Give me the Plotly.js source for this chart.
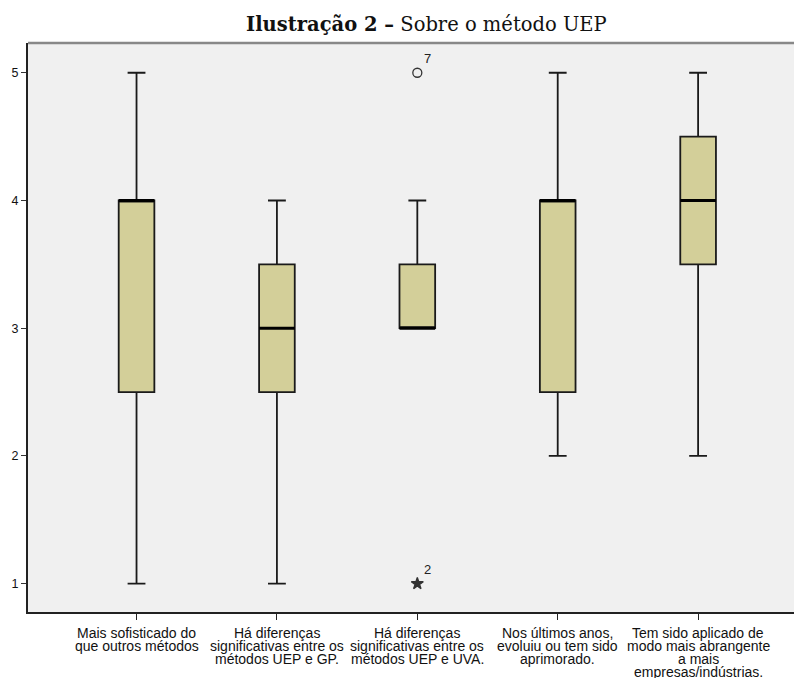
<!DOCTYPE html>
<html>
<head>
<meta charset="utf-8">
<script src="https://cdn.plot.ly/plotly-3.0.1.min.js"></script>
<style>html,body{margin:0;padding:0;background:#fff;}#chart{width:794px;height:678px;}</style>
</head>
<body>
<div id="chart"></div>
<script>
const categories = [
  "Mais sofisticado do<br>que outros métodos",
  "Há diferenças<br>significativas entre os<br>métodos UEP e GP.",
  "Há diferenças<br>significativas entre os<br>métodos UEP e UVA.",
  "Nos últimos anos,<br>evoluiu ou tem sido<br>aprimorado.",
  "Tem sido aplicado de<br>modo mais abrangente<br>a mais<br>empresas/indústrias."
];
const lowerWhisker = [1, 1, 3, 2, 2];
const q1Values     = [2.5, 2.5, 3, 2.5, 3.5];
const medianValues = [4, 3, 3, 4, 4];
const q3Values     = [4, 3.5, 3.5, 4, 4.5];
const upperWhisker = [5, 4, 4, 5, 5];
const outlierCategory = [2, 2];
const outlierValues = [5, 1];
const outlierLabels = ["7", "2"];
const outlierSymbols = ["circle-open", "star"];

const positions = categories.map((c, i) => i);
const boxWidth = 0.254;

const traces = [{
  type: "box",
  x: positions,
  q1: q1Values,
  median: medianValues,
  q3: q3Values,
  lowerfence: lowerWhisker,
  upperfence: upperWhisker,
  width: boxWidth,
  whiskerwidth: 0.5,
  fillcolor: "#d3cf99",
  line: {color: "#1a1a1a", width: 1.8},
  boxpoints: false,
  hoverinfo: "skip",
  showlegend: false
}];

// thick median lines
const mx = [], my = [];
positions.forEach((p, i) => {
  mx.push(p - boxWidth / 2, p + boxWidth / 2, null);
  my.push(medianValues[i], medianValues[i], null);
});
traces.push({
  type: "scatter", mode: "lines", x: mx, y: my,
  line: {color: "#000", width: 3}, showlegend: false, hoverinfo: "skip"
});

// outliers
outlierValues.forEach((v, i) => {
  traces.push({
    type: "scatter", mode: "markers+text",
    x: [positions[outlierCategory[i]]], y: [v],
    text: [outlierLabels[i]],
    textposition: "top right",
    textfont: {family: "Liberation Sans, Arial, sans-serif", size: 13, color: "#222"},
    marker: {symbol: outlierSymbols[i], size: 9, color: "#333", line: {color: "#333", width: 1.3}},
    showlegend: false, hoverinfo: "skip", cliponaxis: false
  });
});

// category labels as tightly spaced lines
const annotations = [];
categories.forEach((c, i) => {
  c.split("<br>").forEach((line, j) => {
    annotations.push({
      text: line, x: positions[i], xref: "x", y: 0, yref: "paper",
      xanchor: "center", yanchor: "top", yshift: -12 - 13 * j,
      showarrow: false, borderpad: 0,
      font: {family: "Liberation Sans, Arial, sans-serif", size: 14, color: "#111"}
    });
  });
});

const layout = {
  width: 794, height: 678,
  margin: {l: 28, r: 0, t: 43, b: 66},
  paper_bgcolor: "#ffffff",
  plot_bgcolor: "#f0f0f0",
  title: {
    text: "<b>Ilustração 2 –</b> Sobre o método UEP",
    font: {family: "DejaVu Serif, serif", size: 19.5, color: "#111"},
    x: 0.537, xanchor: "center", y: 0.964, yanchor: "middle"
  },
  xaxis: {
    range: [-0.773, 4.683],
    tickmode: "array", tickvals: positions, ticktext: positions.map(() => ""),
    showgrid: false, zeroline: false,
    showline: true, linecolor: "#222", linewidth: 2,
    ticks: "outside", ticklen: 6, tickcolor: "#222", tickwidth: 1,
    fixedrange: true
  },
  yaxis: {
    range: [0.778, 5.233],
    tickvals: [1, 2, 3, 4, 5],
    showgrid: false, zeroline: false,
    showline: true, linecolor: "#222", linewidth: 2,
    ticks: "outside", ticklen: 5, tickcolor: "#333", tickwidth: 1,
    tickfont: {family: "Liberation Sans, Arial, sans-serif", size: 12.5, color: "#111"},
    fixedrange: true
  },
  annotations: annotations,
  shapes: [{
    type: "line", xref: "paper", yref: "paper", x0: 0, x1: 1, y0: 1, y1: 1,
    line: {color: "#888", width: 2.5}
  }]
};

Plotly.newPlot("chart", traces, layout, {displayModeBar: false, staticPlot: true});
</script>
</body>
</html>
